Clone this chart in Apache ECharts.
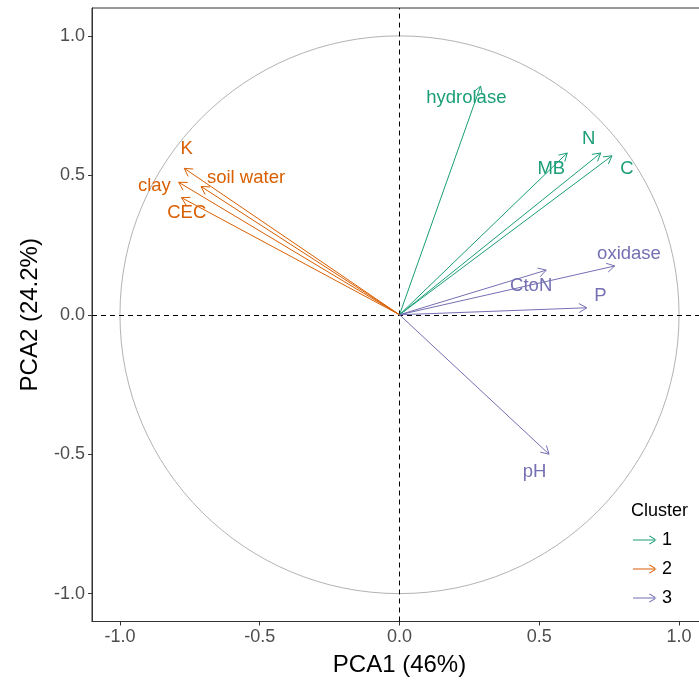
<!DOCTYPE html>
<html>
<head>
<meta charset="utf-8">
<script src="https://cdn.jsdelivr.net/npm/echarts@6/dist/echarts.min.js"></script>
<style>
  html, body { margin: 0; padding: 0; background: #fff; }
  #chart { width: 699px; height: 686px; }
</style>
</head>
<body>
<div id="chart"></div>
<script>
// PCA variable loadings (correlation circle)
const variables = ['hydrolase', 'MB', 'N', 'C', 'oxidase', 'CtoN', 'P', 'pH', 'K', 'clay', 'soil water', 'CEC'];
const pc1 = [0.29, 0.60, 0.72, 0.76, 0.77, 0.525, 0.67, 0.535, -0.77, -0.79, -0.71, -0.78];
const pc2 = [0.82, 0.58, 0.58, 0.57, 0.175, 0.16, 0.025, -0.50, 0.525, 0.475, 0.46, 0.42];
const cluster = ['1', '1', '1', '1', '3', '3', '3', '3', '2', '2', '2', '2'];
// where each variable's name is written, in PCA units
const labelPc1 = [0.239, 0.543, 0.677, 0.814, 0.821, 0.471, 0.719, 0.483, -0.761, -0.877, -0.549, -0.761];
const labelPc2 = [0.776, 0.524, 0.630, 0.523, 0.219, 0.103, 0.067, -0.563, 0.595, 0.463, 0.490, 0.365];

const clusters = ['1', '2', '3'];
const clusterColors = { '1': '#1B9E77', '2': '#D95F02', '3': '#7570B3' };
const tickValues = [-1, -0.5, 0, 0.5, 1];
const FONT = 'Liberation Sans, Arial, sans-serif';

const chart = echarts.init(document.getElementById('chart'), null, { renderer: 'canvas' });

function arrowItem(params, api) {
  const o = api.coord([0, 0]);
  const t = api.coord([api.value(0), api.value(1)]);
  const l = api.coord([api.value(2), api.value(3)]);
  const color = api.visual('color');
  const ang = Math.atan2(t[1] - o[1], t[0] - o[0]);
  const hl = 9, ha = Math.PI / 6;
  const h1 = [t[0] - hl * Math.cos(ang - ha), t[1] - hl * Math.sin(ang - ha)];
  const h2 = [t[0] - hl * Math.cos(ang + ha), t[1] - hl * Math.sin(ang + ha)];
  const name = variables[api.value(4)];
  return {
    type: 'group',
    children: [
      { type: 'line', shape: { x1: o[0], y1: o[1], x2: t[0], y2: t[1] },
        style: { stroke: color, lineWidth: 1 } },
      { type: 'polyline', shape: { points: [h1, t, h2] },
        style: { stroke: color, lineWidth: 1, fill: null } },
      { type: 'text', x: l[0], y: l[1],
        style: { text: name, fill: color, font: '18.5px ' + FONT,
                 align: 'center', verticalAlign: 'middle' } }
    ]
  };
}

const arrowSeries = clusters.map(function (c) {
  const data = [];
  variables.forEach(function (v, i) {
    if (cluster[i] === c) data.push([pc1[i], pc2[i], labelPc1[i], labelPc2[i], i]);
  });
  return {
    name: c,
    type: 'custom',
    coordinateSystem: 'cartesian2d',
    itemStyle: { color: clusterColors[c] },
    renderItem: arrowItem,
    encode: { x: [0, 2], y: [1, 3] },
    data: data,
    z: 5
  };
});

// unit circle plus the dashed zero lines
const circleSeries = {
  type: 'custom',
  coordinateSystem: 'cartesian2d',
  silent: true,
  renderItem: function (params, api) {
    const c = api.coord([0, 0]);
    const rx = api.coord([1, 0])[0] - c[0];
    const ry = c[1] - api.coord([0, 1])[1];
    return { type: 'ellipse', shape: { cx: c[0], cy: c[1], rx: rx, ry: ry },
             style: { stroke: '#b3b3b3', lineWidth: 1, fill: null } };
  },
  data: [[0, 0]],
  markLine: {
    silent: true,
    symbol: 'none',
    label: { show: false },
    lineStyle: { color: '#000', type: [5, 4], width: 1 },
    data: [{ xAxis: 0 }, { yAxis: 0 }]
  },
  z: 2
};

function axisCommon(name, gap) {
  return {
    type: 'value',
    min: -1.1,
    max: 1.1,
    name: name,
    nameLocation: 'middle',
    nameGap: gap,
    nameTextStyle: { color: '#000', fontSize: 24, fontFamily: FONT },
    axisLine: { show: true, onZero: false, lineStyle: { color: '#333', width: 1 } },
    axisTick: { show: true, length: 4, customValues: tickValues, lineStyle: { color: '#333' } },
    axisLabel: { customValues: tickValues, color: '#4D4D4D', fontSize: 18, fontFamily: FONT,
                 margin: 7, formatter: function (v) { return v.toFixed(1); } },
    splitLine: { show: false }
  };
}

const arrowIcon = 'path://M0,4.6 L20,4.6 L20,5.4 L0,5.4 Z M20.4,5 L14.2,1.1 L13.6,1.8 L19,5 L13.6,8.2 L14.2,8.9 Z';

chart.setOption({
  animation: false,
  backgroundColor: '#fff',
  title: {
    text: 'Cluster',
    left: 626, top: 497,
    textStyle: { color: '#000', fontSize: 18, fontWeight: 'normal', fontFamily: FONT }
  },
  legend: {
    orient: 'vertical',
    left: 628, top: 526,
    data: clusters,
    icon: arrowIcon,
    itemWidth: 24, itemHeight: 12,
    itemGap: 11,
    textStyle: { color: '#000', fontSize: 18, fontFamily: FONT },
    selectedMode: false
  },
  grid: {
    left: 92, top: 8, width: 615, height: 613.5,
    show: true, borderColor: '#333', borderWidth: 1,
    containLabel: false,
    outerBoundsMode: 'none'
  },
  xAxis: axisCommon('PCA1 (46%)', 32),
  yAxis: axisCommon('PCA2 (24.2%)', 50),
  series: [circleSeries].concat(arrowSeries)
});
</script>
</body>
</html>
